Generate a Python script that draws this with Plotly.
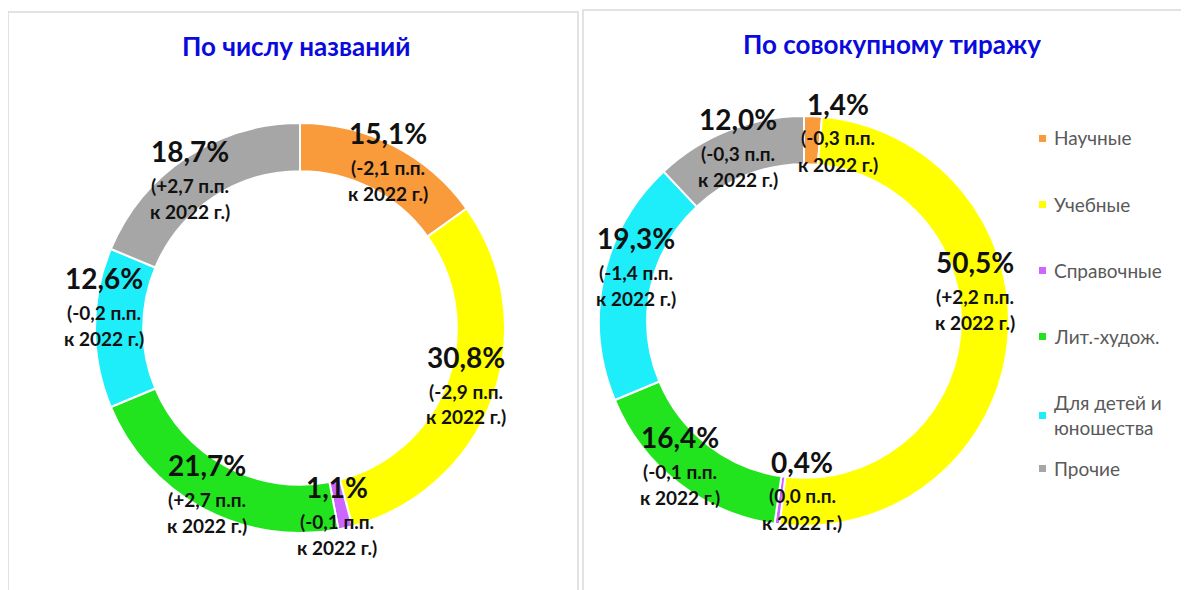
import plotly.graph_objects as go

W, H = 1189, 590

categories = ["Научные", "Учебные", "Справочные", "Лит.-худож.", "Для детей и юношества", "Прочие"]
legend_names = ["Научные", "Учебные", "Справочные", "Лит.-худож.", "Для детей и<br>юношества", "Прочие"]
colors = ["#F99A3B", "#FFFF00", "#CC66FF", "#22E41E", "#1EEEFA", "#A6A6A6"]

titles_share = [15.1, 30.8, 1.1, 21.7, 12.6, 18.7]
titles_change = [-2.1, -2.9, -0.1, 2.7, -0.2, 2.7]
print_share = [1.4, 50.5, 0.4, 16.4, 19.3, 12.0]
print_change = [-0.3, 2.2, 0.0, -0.1, -1.4, -0.3]

chart_titles = ["По числу названий", "По совокупному тиражу"]

# layout in pixels of the page (the page body has an 8px margin)
OFF = 8
left_c, left_r = (300, 328), 205
right_c, right_r = (804, 321), 205
left_lbl = [(388, 133), (466, 357), (337, 487), (207, 465), (104, 278), (190, 151)]
right_lbl = [(838, 104), (975, 262), (802, 462), (680, 437), (636, 238), (738, 119)]


def px(x):
    return (x - OFF) / W


def py(y):
    return 1 - (y - OFF) / H


def fmt(v, sign=False):
    s = f"{abs(v):.1f}".replace(".", ",")
    if sign:
        if v > 0:
            s = "+" + s
        elif v < 0:
            s = "-" + s
    return s


def domain(c, r):
    return dict(x=[px(c[0] - r), px(c[0] + r)], y=[py(c[1] + r), py(c[1] - r)])


fig = go.Figure()
for vals, c, r in [(titles_share, left_c, left_r), (print_share, right_c, right_r)]:
    fig.add_trace(go.Pie(
        labels=categories, values=vals, hole=0.765, sort=False,
        direction="clockwise", rotation=0, textinfo="none",
        marker=dict(colors=colors, line=dict(color="white", width=2)),
        domain=domain(c, r), showlegend=False, hoverinfo="label+percent",
    ))

ann = []
F = "Lato, 'Open Sans', sans-serif"
for share, change, pos in [(titles_share, titles_change, left_lbl), (print_share, print_change, right_lbl)]:
    for s, d, (x, y) in zip(share, change, pos):
        ann.append(dict(x=px(x), y=py(y), text="<b>" + fmt(s) + "%</b>", showarrow=False,
                        xanchor="center", yanchor="middle", font=dict(size=28, color="#111111", family=F)))
        ann.append(dict(x=px(x), y=py(y + 34), text="<b>(" + fmt(d, True) + " п.п.</b>", showarrow=False,
                        xanchor="center", yanchor="middle", font=dict(size=19, color="#111111", family=F)))
        ann.append(dict(x=px(x), y=py(y + 60), text="<b>к 2022 г.)</b>", showarrow=False,
                        xanchor="center", yanchor="middle", font=dict(size=19, color="#111111", family=F)))

for t, (x, y) in zip(chart_titles, [(296, 46), (892, 44)]):
    ann.append(dict(x=px(x), y=py(y), text="<b>" + t + "</b>", showarrow=False,
                    xanchor="center", yanchor="middle", font=dict(size=26, color="#0A0ADC", family=F)))

shapes = [
    dict(type="rect", xref="paper", yref="paper", x0=px(8), x1=px(578), y0=py(620), y1=py(12),
         line=dict(color="#D9D9D9", width=1.5)),
    dict(type="rect", xref="paper", yref="paper", x0=px(583), x1=px(1220), y0=py(620), y1=py(10),
         line=dict(color="#D9D9D9", width=1.5)),
]

leg_y = [138, 204, 270, 336, 415, 468]
for name, col, y in zip(legend_names, colors, leg_y):
    shapes.append(dict(type="rect", xref="paper", yref="paper",
                       x0=px(1039), x1=px(1046), y0=py(y + 4), y1=py(y - 3),
                       fillcolor=col, line=dict(width=0)))
    ann.append(dict(x=px(1052), y=py(y), text=name, showarrow=False, align="left",
                    xanchor="left", yanchor="middle",
                    font=dict(size=19, color="#595959", family=F)))

fig.update_layout(
    width=W, height=H, margin=dict(l=0, r=0, t=0, b=0),
    paper_bgcolor="white", plot_bgcolor="white",
    annotations=ann, shapes=shapes,
)

fig.write_html("out.html")
